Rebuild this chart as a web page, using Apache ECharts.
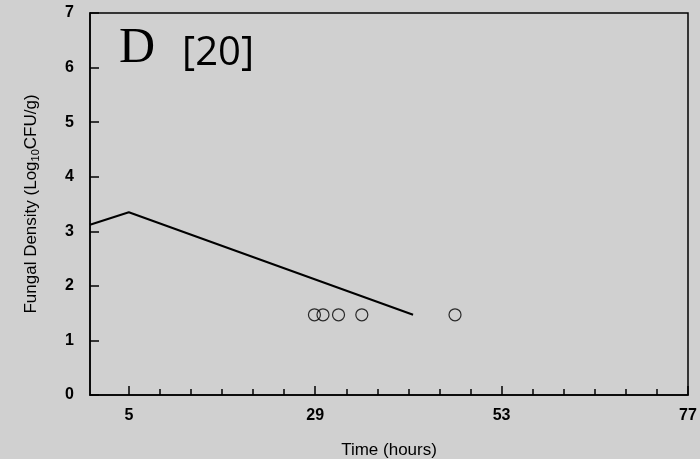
<!DOCTYPE html>
<html>
<head>
<meta charset="utf-8">
<script src="https://cdn.jsdelivr.net/npm/echarts@6/dist/echarts.min.js"></script>
<style>html,body{margin:0;padding:0;background:#d0d0d0;}#chart{width:700px;height:459px;}</style>
</head>
<body>
<div id="chart"></div>
<script>
const lineTime = [0, 5, 41.6];
const lineDensity = [3.12, 3.35, 1.47];
const obsTime = [28.9, 30, 32, 35, 47];
const obsDensity = [1.47, 1.47, 1.47, 1.47, 1.47];
const xMajorTicks = [5, 29, 53, 77];
const xMinorTicks = [9, 13, 17, 21, 25, 33, 37, 41, 45, 49, 57, 61, 65, 69, 73];
const yTicks = [0, 1, 2, 3, 4, 5, 6, 7];

const chart = echarts.init(document.getElementById('chart'), null, {renderer: 'canvas'});
const labelFont = {fontFamily: 'Liberation Sans, Arial, sans-serif', fontSize: 16, fontWeight: 'bold', color: '#000'};
const nameFont = {fontFamily: 'Liberation Sans, Arial, sans-serif', fontSize: 17, fontWeight: 'normal', color: '#000'};
chart.setOption({
  backgroundColor: '#d0d0d0',
  animation: false,
  title: {
    left: 114, top: 19,
    text: '{d|D}{b|[20]}',
    textStyle: {
      fontWeight: 'normal',
      rich: {
        d: {fontFamily: 'Liberation Serif, Times New Roman, serif', fontSize: 50, fontWeight: 'normal', color: '#000', verticalAlign: 'bottom'},
        b: {fontFamily: 'Open Sans, sans-serif', fontSize: 40, fontWeight: 'normal', color: '#000', verticalAlign: 'bottom', padding: [0, 0, 0, 27]}
      }
    }
  },
  grid: {left: 90, right: 12, top: 13, bottom: 64, outerBoundsMode: 'none', containLabel: false, show: true, borderColor: '#000', borderWidth: 1.5, backgroundColor: 'transparent'},
  xAxis: [{
    type: 'value', min: 0, max: 77,
    name: 'Time (hours)', nameLocation: 'middle', nameGap: 47,
    nameTextStyle: nameFont,
    axisLine: {show: true, lineStyle: {color: '#000', width: 1.5}},
    axisTick: {show: true, inside: true, length: 9, customValues: xMajorTicks, lineStyle: {color: '#000', width: 1.5}},
    axisLabel: Object.assign({customValues: xMajorTicks, margin: 13}, labelFont),
    splitLine: {show: false}
  }, {
    type: 'value', min: 0, max: 77, position: 'bottom',
    axisLine: {show: false},
    axisTick: {show: true, inside: true, length: 6, customValues: xMinorTicks, lineStyle: {color: '#000', width: 1.5}},
    axisLabel: {show: false},
    splitLine: {show: false}
  }],
  yAxis: {
    type: 'value', min: 0, max: 7, interval: 1,
    name: '{n|Fungal Density (Log}{s|10}{n|CFU/g)}', nameLocation: 'middle', nameGap: 49,
    nameTextStyle: {rich: {
      n: nameFont,
      s: Object.assign({}, nameFont, {fontSize: 11, verticalAlign: 'top', padding: [9, 0, 0, 0]})
    }},
    axisLine: {show: true, lineStyle: {color: '#000', width: 1.5}},
    axisTick: {show: true, inside: true, length: 9, customValues: yTicks, lineStyle: {color: '#000', width: 1.5}},
    axisLabel: Object.assign({margin: 16}, labelFont),
    splitLine: {show: false}
  },
  series: [{
    type: 'line', xAxisIndex: 0,
    data: lineTime.map((t, i) => [t, lineDensity[i]]),
    symbol: 'none', lineStyle: {color: '#000', width: 2}
  }, {
    type: 'scatter', xAxisIndex: 0,
    data: obsTime.map((t, i) => [t, obsDensity[i]]),
    symbol: 'circle', symbolSize: 12,
    itemStyle: {color: 'transparent', borderColor: '#000', borderWidth: 1.2}
  }]
});
</script>
</body>
</html>
